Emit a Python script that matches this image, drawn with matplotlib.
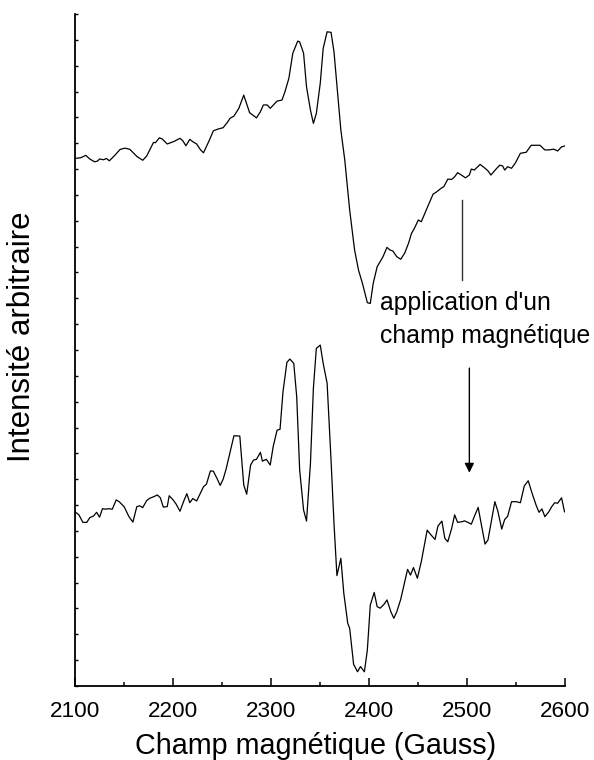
import matplotlib
matplotlib.use("Agg")
import matplotlib.pyplot as plt
from matplotlib.ticker import MultipleLocator, NullFormatter

plt.rcParams['font.family'] = ['Liberation Sans', 'DejaVu Sans']

# spectre du haut (sans champ)
champ_haut = [2100, 2106, 2111, 2115, 2120, 2123, 2125, 2129, 2132, 2135,
              2140, 2146, 2151, 2156, 2163, 2169, 2173, 2180, 2182, 2186,
              2189, 2194, 2201, 2207, 2210, 2213, 2217, 2220, 2224, 2228,
              2231, 2237, 2241, 2246, 2251, 2255, 2258, 2262, 2267, 2272,
              2278, 2285, 2289, 2292, 2296, 2299, 2306, 2311, 2314, 2318,
              2322, 2327, 2329, 2333, 2336, 2340, 2343, 2346, 2350, 2353,
              2357, 2361, 2364, 2368, 2371, 2375, 2380, 2385, 2389, 2393,
              2398, 2401, 2404, 2408, 2414, 2418, 2421, 2424, 2428, 2432,
              2436, 2440, 2443, 2446, 2450, 2453, 2458, 2465, 2468, 2473,
              2476, 2480, 2484, 2487, 2490, 2495, 2498, 2502, 2504, 2507,
              2513, 2518, 2521, 2524, 2529, 2533, 2536, 2538, 2541, 2545,
              2549, 2554, 2560, 2565, 2574, 2579, 2583, 2588, 2592, 2596,
              2599]
intens_haut = [20.41, 20.44, 20.53, 20.39, 20.28, 20.31, 20.39, 20.36, 20.41, 20.32,
               20.51, 20.76, 20.81, 20.76, 20.49, 20.34, 20.50, 21.03, 21.02, 21.21,
               21.16, 20.97, 21.07, 21.19, 21.09, 20.90, 21.15, 21.06, 20.97, 20.74,
               20.63, 21.12, 21.48, 21.55, 21.60, 21.79, 21.96, 22.05, 22.35, 22.86,
               22.18, 21.98, 22.22, 22.48, 22.48, 22.35, 22.63, 22.67, 22.99, 23.51,
               24.48, 24.95, 24.92, 24.48, 23.18, 22.28, 21.77, 22.15, 23.32, 24.67,
               25.31, 25.29, 24.54, 22.80, 21.51, 20.35, 18.41, 16.87, 16.09, 15.58,
               14.83, 14.80, 15.58, 16.22, 16.61, 16.97, 16.87, 16.83, 16.61, 16.51,
               16.74, 17.13, 17.51, 17.71, 18.03, 17.96, 18.41, 19.03, 19.10, 19.25,
               19.32, 19.61, 19.60, 19.70, 19.86, 19.74, 19.66, 19.77, 20.00, 19.96,
               20.18, 20.03, 19.93, 19.77, 19.99, 20.15, 20.12, 19.96, 20.09, 20.03,
               20.24, 20.61, 20.65, 20.92, 20.92, 20.74, 20.74, 20.77, 20.70, 20.86,
               20.89]

# spectre du bas (avec champ)
champ_bas = [2100, 2104, 2108, 2112, 2115, 2119, 2122, 2125, 2128, 2131,
             2134, 2138, 2142, 2145, 2150, 2155, 2159, 2163, 2166, 2169,
             2173, 2176, 2180, 2184, 2187, 2190, 2194, 2196, 2200, 2203,
             2207, 2211, 2214, 2217, 2220, 2224, 2228, 2231, 2234, 2238,
             2241, 2245, 2248, 2251, 2254, 2257, 2262, 2268, 2272, 2275,
             2279, 2282, 2285, 2289, 2291, 2295, 2299, 2302, 2306, 2309,
             2312, 2316, 2319, 2323, 2326, 2329, 2333, 2336, 2340, 2343,
             2346, 2350, 2353, 2357, 2361, 2364, 2367, 2371, 2374, 2378,
             2380, 2384, 2388, 2391, 2395, 2398, 2401, 2405, 2408, 2411,
             2415, 2418, 2422, 2425, 2428, 2432, 2435, 2439, 2442, 2445,
             2449, 2453, 2459, 2463, 2467, 2470, 2474, 2477, 2480, 2484,
             2487, 2490, 2495, 2497, 2501, 2504, 2507, 2511, 2514, 2518,
             2521, 2524, 2528, 2531, 2535, 2538, 2541, 2545, 2550, 2554,
             2558, 2562, 2566, 2570, 2573, 2576, 2579, 2583, 2586, 2589,
             2592, 2596, 2599]
intens_bas = [6.74, 6.62, 6.33, 6.33, 6.51, 6.58, 6.72, 6.53, 6.86, 6.84,
              6.86, 6.84, 7.20, 7.13, 6.94, 6.55, 6.34, 6.94, 6.97, 6.90,
              7.17, 7.26, 7.32, 7.39, 7.28, 6.92, 6.94, 7.36, 7.20, 7.04,
              6.76, 7.17, 7.44, 7.09, 7.25, 7.16, 7.48, 7.71, 7.81, 8.32,
              8.31, 8.01, 7.76, 8.00, 8.39, 8.87, 9.68, 9.67, 7.78, 7.42,
              8.55, 8.74, 8.77, 9.04, 8.70, 8.77, 8.55, 9.26, 9.90, 9.93,
              11.38, 12.52, 12.65, 12.48, 11.19, 8.36, 6.81, 6.38, 8.61, 11.52,
              13.06, 13.19, 12.48, 11.71, 8.74, 6.29, 4.27, 4.94, 3.59, 2.43,
              2.23, 0.84, 0.55, 0.75, 0.55, 1.39, 3.13, 3.62, 3.07, 3.01,
              3.16, 3.33, 2.87, 2.62, 2.87, 3.35, 3.84, 4.51, 4.29, 4.58,
              4.17, 4.81, 6.03, 5.84, 5.67, 6.19, 6.38, 5.71, 5.58, 6.10,
              6.62, 6.33, 6.36, 6.39, 6.32, 6.26, 6.55, 6.91, 6.29, 5.49,
              5.65, 6.29, 7.13, 6.77, 6.07, 6.44, 6.56, 7.13, 7.13, 7.09,
              7.74, 7.94, 7.45, 7.00, 6.72, 6.85, 6.55, 6.74, 6.94, 7.09,
              7.07, 7.28, 6.74]

fig = plt.figure(figsize=(5.94, 7.6), dpi=100)
ax = fig.add_axes([0.1263, 0.0974, 0.8257, 0.8842])

ax.plot(champ_haut, intens_haut, color='black', lw=0.9)
ax.plot(champ_bas, intens_bas, color='black', lw=0.9)

ax.set_xlim(2100, 2600)
ax.set_ylim(0, 26)

# trait et flèche
ax.plot([2495, 2495], [18.80, 15.71], color='#333333', lw=1.0)
ax.annotate('', xy=(2502, 8.25), xytext=(2502, 12.30),
            arrowprops=dict(arrowstyle='-|>', color='black', lw=1.0,
                            mutation_scale=14, shrinkA=0, shrinkB=0))
ax.text(2411, 14.55, "application d'un", fontsize=17.8, ha='left', va='baseline')
ax.text(2411, 13.27, "champ magnétique", fontsize=17.8, ha='left', va='baseline')

for s in ['top', 'right']:
    ax.spines[s].set_visible(False)
for s in ['left', 'bottom']:
    ax.spines[s].set_linewidth(1.3)

ax.xaxis.set_major_locator(MultipleLocator(100))
ax.xaxis.set_minor_locator(MultipleLocator(50))
ax.tick_params(axis='x', which='major', direction='in', length=6, width=1.1,
               labelsize=16.2, pad=10.5)
ax.tick_params(axis='x', which='minor', direction='in', length=3, width=1.1)

ax.yaxis.set_major_locator(MultipleLocator(1))
ax.yaxis.set_major_formatter(NullFormatter())
ax.tick_params(axis='y', which='major', direction='in', length=2.5, width=1.0)

fig.text(316 / 594, 1 - 754 / 760, 'Champ magnétique (Gauss)',
         ha='center', va='baseline', fontsize=20.7)
fig.text(22 / 594, 1 - 337 / 760, 'Intensité arbitraire', rotation=90,
         ha='center', va='center', fontsize=22.5)

fig.savefig('out.png', dpi=100)
